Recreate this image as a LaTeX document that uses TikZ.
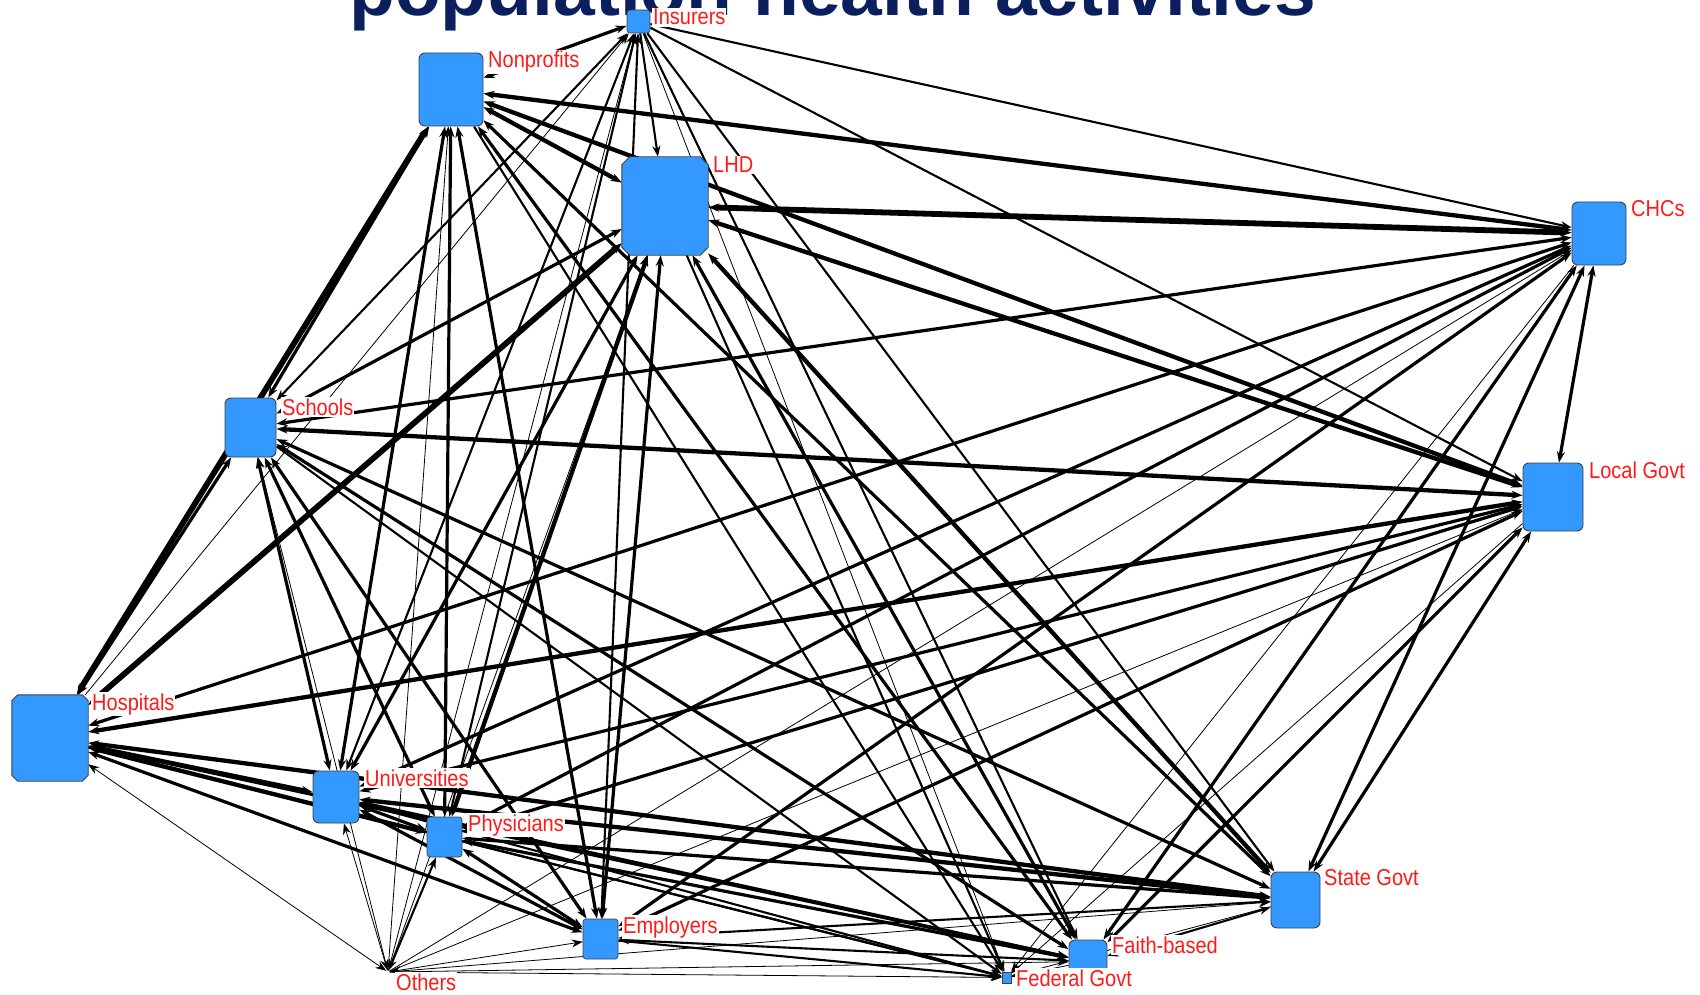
\documentclass[tikz,border=0pt]{standalone}
\usepackage{fontspec}
\usetikzlibrary{arrows.meta}
\newfontfamily\labfont{Liberation Sans}[FakeStretch=0.87]
\newfontfamily\ttlfont{Liberation Sans}
\definecolor{nodeblue}{HTML}{3399FF}
\definecolor{ttlblue}{HTML}{0B1F5E}
\definecolor{labred}{HTML}{FF1A1A}
\pgfdeclarelayer{bg}
\pgfdeclarelayer{edges}
\pgfsetlayers{bg,edges,main}
\newcommand\mylink[4]{\draw[#3,#4] (#1) -- (#2);}
\newcommand\chamf[2]{\filldraw[draw=black!75, fill=nodeblue, line width=0.9pt]
  ([xshift=#2]#1.north west) -- ([xshift=-#2]#1.north east) -- ([yshift=-#2]#1.north east) --
  ([yshift=#2]#1.south east) -- ([xshift=-#2]#1.south east) -- ([xshift=#2]#1.south west) --
  ([yshift=#2]#1.south west) -- ([yshift=-#2]#1.north west) -- cycle;}
\tikzset{
  box/.style={draw=black!75, fill=nodeblue, line width=0.9pt, rounded corners=6pt, inner sep=0pt},
  sbox/.style={draw=black!75, fill=nodeblue, line width=0.7pt, rounded corners=3pt, inner sep=0pt},
  hbox/.style={inner sep=0pt},
  lab/.style={anchor=base west, text=labred, fill=white, inner xsep=1pt, inner ysep=1.5pt, font=\labfont\fontsize{23}{24}\selectfont},
  wA/.style={line width=0.8pt},
  wB/.style={line width=2.1pt},
  wC/.style={line width=3.2pt},
  wD/.style={line width=4.3pt},
  wE/.style={line width=5.8pt},
  tp/.tip={Stealth[length=11pt,width=8pt]},
  arF/.style={-tp},
  arB/.style={tp-tp},
  arR/.style={tp-},
}
\begin{document}
\begin{tikzpicture}[x=1pt,y=-1pt]
\useasboundingbox (0,0) rectangle (1700,995);
\begin{pgfonlayer}{bg}
\clip (0,0) rectangle (1700,995);
\fill[white] (0,0) rectangle (1700,995);
\node[anchor=base west, inner sep=0pt, text=ttlblue, font=\ttlfont\bfseries\fontsize{75}{80}\selectfont] (ttl) at (349,16) {population health activities};
\end{pgfonlayer}

% nodes
\node[sbox, minimum width=23pt, minimum height=23pt] (ins) at (638.5,21.5) {};
\node[box, minimum width=64pt, minimum height=73pt] (non) at (451,89.5) {};
\node[hbox, minimum width=86pt, minimum height=98pt] (lhd) at (665,206) {};
\node[box, minimum width=54pt, minimum height=63pt] (chc) at (1599,233.5) {};
\node[box, minimum width=51pt, minimum height=59pt] (sch) at (250.5,427.5) {};
\node[box, minimum width=60pt, minimum height=68pt] (loc) at (1553,497) {};
\node[hbox, minimum width=76pt, minimum height=86pt] (hos) at (50,738) {};
\node[box, minimum width=46pt, minimum height=52pt] (uni) at (336,797) {};
\node[sbox, minimum width=35pt, minimum height=40pt] (phy) at (444.5,837) {};
\node[sbox, minimum width=35pt, minimum height=40pt] (emp) at (600.5,939) {};
\node[inner sep=0pt, minimum size=3pt] (oth) at (388,972) {};
\node[draw=black!75, fill=nodeblue, line width=0.5pt, inner sep=0pt, minimum width=9pt, minimum height=11pt] (fed) at (1006.5,977.5) {};
\node[box, minimum width=38pt, minimum height=43pt] (fai) at (1088,961.5) {};
\node[box, minimum width=49pt, minimum height=56pt] (sta) at (1295.5,900) {};

\begin{pgfonlayer}{edges}
\mylink{ins}{non}{wC}{arB}
\mylink{ins}{lhd}{wB}{arF}
\mylink{ins}{chc}{wB}{arF}
\mylink{ins}{loc}{wB}{arF}
\mylink{ins}{sta}{wB}{arF}
\mylink{ins}{fai}{wB}{arF}
\mylink{ins}{fed}{wA}{arF}
\mylink{ins}{emp}{wB}{arB}
\mylink{ins}{phy}{wB}{arB}
\mylink{ins}{uni}{wB}{arB}
\mylink{ins}{sch}{wB}{arB}
\mylink{ins}{hos}{wA}{arR}
\mylink{ins}{oth}{wA}{arR}
\mylink{non}{lhd}{wD}{arB}
\mylink{non}{chc}{wD}{arB}
\mylink{non}{loc}{wD}{arB}
\mylink{non}{hos}{wE}{arB}
\mylink{non}{sch}{wC}{arB}
\mylink{non}{uni}{wC}{arB}
\mylink{non}{phy}{wC}{arB}
\mylink{non}{emp}{wC}{arB}
\mylink{non}{oth}{wA}{arR}
\mylink{non}{sta}{wC}{arB}
\mylink{non}{fai}{wC}{arB}
\mylink{non}{fed}{wB}{arF}
\mylink{lhd}{chc}{wE}{arB}
\mylink{lhd}{loc}{wD}{arB}
\mylink{lhd}{sta}{wD}{arB}
\mylink{lhd}{fai}{wC}{arB}
\mylink{lhd}{fed}{wB}{arF}
\mylink{lhd}{emp}{wC}{arB}
\mylink{lhd}{phy}{wD}{arB}
\mylink{lhd}{uni}{wC}{arB}
\mylink{lhd}{oth}{wA}{arR}
\mylink{lhd}{sch}{wC}{arB}
\mylink{lhd}{hos}{wE}{arB}
\mylink{chc}{loc}{wC}{arB}
\mylink{chc}{sta}{wC}{arB}
\mylink{chc}{fai}{wC}{arB}
\mylink{chc}{fed}{wA}{arF}
\mylink{chc}{emp}{wC}{arB}
\mylink{chc}{phy}{wC}{arB}
\mylink{chc}{uni}{wC}{arB}
\mylink{chc}{hos}{wC}{arB}
\mylink{chc}{sch}{wC}{arB}
\mylink{chc}{oth}{wA}{arR}
\mylink{loc}{sta}{wC}{arB}
\mylink{loc}{fai}{wC}{arB}
\mylink{loc}{fed}{wA}{arF}
\mylink{loc}{emp}{wC}{arB}
\mylink{loc}{phy}{wC}{arB}
\mylink{loc}{uni}{wC}{arB}
\mylink{loc}{hos}{wD}{arB}
\mylink{loc}{sch}{wD}{arB}
\mylink{loc}{oth}{wA}{arR}
\mylink{sta}{hos}{wD}{arB}
\mylink{sta}{uni}{wD}{arB}
\mylink{sta}{phy}{wC}{arB}
\mylink{sta}{emp}{wB}{arB}
\mylink{sta}{fai}{wB}{arB}
\mylink{sta}{sch}{wC}{arB}
\mylink{sta}{oth}{wA}{arR}
\mylink{sta}{fed}{wA}{arF}
\mylink{sch}{uni}{wC}{arB}
\mylink{sch}{phy}{wC}{arB}
\mylink{sch}{emp}{wC}{arB}
\mylink{sch}{fai}{wC}{arB}
\mylink{sch}{fed}{wB}{arF}
\mylink{sch}{oth}{wA}{arR}
\mylink{sch}{hos}{wC}{arB}
\mylink{hos}{uni}{wD}{arB}
\mylink{hos}{phy}{wD}{arB}
\mylink{hos}{emp}{wC}{arB}
\mylink{hos}{fai}{wC}{arB}
\mylink{hos}{fed}{wB}{arF}
\mylink{hos}{oth}{wA}{arB}
\mylink{uni}{phy}{wC}{arB}
\mylink{uni}{emp}{wC}{arB}
\mylink{uni}{fai}{wC}{arB}
\mylink{uni}{fed}{wB}{arF}
\mylink{uni}{oth}{wA}{arB}
\mylink{phy}{emp}{wC}{arB}
\mylink{phy}{fai}{wC}{arB}
\mylink{phy}{fed}{wB}{arF}
\mylink{phy}{oth}{wB}{arB}
\mylink{emp}{fai}{wB}{arB}
\mylink{emp}{fed}{wB}{arF}
\mylink{emp}{oth}{wA}{arB}
\mylink{fai}{fed}{wA}{arF}
\mylink{fai}{oth}{wA}{arR}
\mylink{fed}{oth}{wA}{arR}
\end{pgfonlayer}

% chamfered boxes
\chamf{lhd}{8pt}
\chamf{hos}{6pt}

% labels
\node[lab] (lins) at (652,25) {Insurers};
\node[lab] (lnon) at (487,68) {Nonprofits};
\node[lab] (llhd) at (712,173) {LHD};
\node[lab] (lchc) at (1630,217) {CHCs};
\node[lab] (lloc) at (1588,478) {Local Govt};
\node[lab] (lsch) at (281,415) {Schools};
\node[lab] (lhos) at (91,710) {Hospitals};
\node[lab] (luni) at (364,786) {Universities};
\node[lab] (lphy) at (467,831) {Physicians};
\node[lab] (lemp) at (622,933) {Employers};
\node[lab] (loth) at (395,990) {Others};
\node[lab] (lfed) at (1015,986) {Federal Govt};
\node[lab] (lfai) at (1111,953) {Faith-based};
\node[lab] (lsta) at (1323,885) {State Govt};
\end{tikzpicture}
\end{document}
